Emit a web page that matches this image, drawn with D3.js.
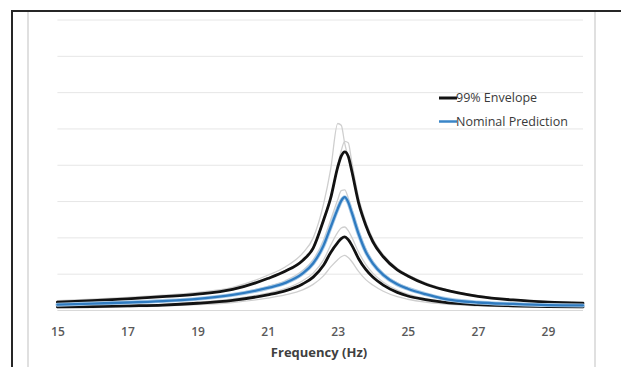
<!DOCTYPE html>
<html><head><meta charset="utf-8">
<script src="https://d3js.org/d3.v7.min.js"></script>
<style>body{margin:0;background:#fff}svg{display:block}</style>
</head><body><svg id="c" width="621" height="367"></svg>
<script>
const freq = [15,16,17,18,19,20,21,21.5,22,22.3,22.6,22.8,23,23.1,23.2,23.3,23.4,23.6,23.8,24,24.3,24.7,25,25.5,26,27,28,29,30];
const upperEnvelope = [0.23,0.27,0.32,0.38,0.45,0.58,0.88,1.08,1.38,1.72,2.5,3.1,3.95,4.25,4.37,4.25,3.85,2.95,2.35,1.9,1.48,1.12,0.95,0.73,0.58,0.39,0.29,0.23,0.2];
const nominal = [0.16,0.19,0.22,0.26,0.32,0.43,0.62,0.76,1.02,1.3,1.8,2.3,2.8,3.02,3.12,2.98,2.7,2.1,1.62,1.3,0.98,0.72,0.6,0.45,0.33,0.22,0.18,0.15,0.14];
const lowerEnvelope = [0.1,0.11,0.13,0.15,0.2,0.28,0.43,0.54,0.73,0.92,1.25,1.6,1.87,1.98,2.03,1.95,1.8,1.42,1.13,0.92,0.7,0.5,0.4,0.3,0.23,0.16,0.13,0.11,0.1];
const sampleA = [0.27,0.31,0.36,0.42,0.5,0.64,0.97,1.2,1.58,2.0,2.95,3.9,5.15,5.1,4.6,4.2,3.8,3.0,2.4,1.95,1.52,1.15,0.98,0.76,0.6,0.41,0.31,0.25,0.21];
const sampleB = [0.25,0.29,0.34,0.39,0.46,0.6,0.9,1.1,1.4,1.75,2.55,3.15,4.0,4.4,4.66,4.62,4.1,3.1,2.45,1.98,1.54,1.16,0.98,0.76,0.6,0.4,0.3,0.24,0.21];
const sampleC = [0.17,0.2,0.23,0.28,0.34,0.46,0.66,0.82,1.1,1.4,1.95,2.5,3.05,3.3,3.32,3.1,2.8,2.2,1.7,1.36,1.03,0.76,0.63,0.47,0.35,0.23,0.18,0.15,0.14];
const sampleD = [0.11,0.12,0.14,0.17,0.23,0.32,0.48,0.6,0.82,1.03,1.4,1.8,2.15,2.27,2.3,2.2,2.02,1.6,1.27,1.03,0.78,0.56,0.45,0.33,0.26,0.18,0.14,0.12,0.11];
const sampleE = [0.07,0.08,0.1,0.12,0.16,0.22,0.34,0.43,0.57,0.72,0.96,1.2,1.4,1.48,1.52,1.46,1.35,1.07,0.85,0.7,0.53,0.38,0.31,0.23,0.18,0.13,0.1,0.09,0.08];
const xTicks = [15,17,19,21,23,25,27,29];
const yGrid = [0,1,2,3,4,5,6,7,8];
const legendLabels = ["99% Envelope","Nominal Prediction"];
const xTitle = "Frequency (Hz)";

const svg = d3.select("#c");
svg.append("rect").attr("width",621).attr("height",367).attr("fill","#fff");
svg.append("line").attr("x1",28).attr("x2",28).attr("y1",12).attr("y2",367).attr("stroke","#d6d6d6").attr("stroke-width",1.5);
svg.append("line").attr("x1",595).attr("x2",595).attr("y1",12).attr("y2",367).attr("stroke","#d6d6d6").attr("stroke-width",1.5);
svg.append("line").attr("x1",12).attr("x2",621).attr("y1",11).attr("y2",11).attr("stroke","#262626").attr("stroke-width",2);
svg.append("line").attr("x1",12).attr("x2",12).attr("y1",10).attr("y2",367).attr("stroke","#262626").attr("stroke-width",2);

const x = d3.scaleLinear().domain([15,30]).range([57.4,583]);
const y = d3.scaleLinear().domain([0,8]).range([310.5,20]);

svg.append("g").selectAll("line").data(yGrid).join("line")
  .attr("x1",x(15)).attr("x2",x(30)).attr("y1",d=>y(d)).attr("y2",d=>y(d))
  .attr("stroke",d=>d===0?"#d9d9d9":"#e6e6e6").attr("stroke-width",1);

const xAxis = d3.axisBottom(x).tickValues(xTicks).tickSize(0).tickPadding(0).tickFormat(d3.format("d"));
const gx = svg.append("g").attr("transform",`translate(0,${y(0)})`).call(xAxis);
gx.select(".domain").remove();
gx.selectAll("text").attr("font-family","Open Sans").attr("font-size","12px").attr("font-weight","600").attr("fill","#595959")
  .attr("dy",null).attr("y",25);

svg.append("text").attr("x",319).attr("y",357).attr("text-anchor","middle")
  .attr("font-family","Open Sans").attr("font-weight","bold").attr("font-size","13px").attr("fill","#404040").text(xTitle);

const line = d3.line().x((d,i)=>x(freq[i])).y(d=>y(d)).curve(d3.curveMonotoneX);
const g = svg.append("g").attr("fill","none").attr("stroke-linejoin","round").attr("stroke-linecap","round");
[sampleA,sampleB,sampleC,sampleD,sampleE].forEach(s=>{
  g.append("path").attr("d",line(s)).attr("stroke","#cfcfcf").attr("stroke-width",1.3);
});
g.append("path").attr("d",line(lowerEnvelope)).attr("stroke","#121212").attr("stroke-width",2.8);
g.append("path").attr("d",line(upperEnvelope)).attr("stroke","#121212").attr("stroke-width",2.8);
g.append("path").attr("d",line(nominal)).attr("stroke","#a9cbe8").attr("stroke-width",4);
g.append("path").attr("d",line(nominal)).attr("stroke","#2f7bc0").attr("stroke-width",2.3);

const leg = svg.append("g");
const legColors = ["#121212","#3a86c8"];
legendLabels.forEach((t,i)=>{
  const yy = 98 + i*23.5;
  leg.append("line").attr("x1",439).attr("x2",457).attr("y1",yy).attr("y2",yy).attr("stroke",legColors[i]).attr("stroke-width",i===0?3:2.5);
  leg.append("text").attr("x",456).attr("y",yy+4).attr("font-family","Open Sans").attr("font-size","12.5px").attr("fill","#3a3a3a").text(t);
});
</script></body></html>
